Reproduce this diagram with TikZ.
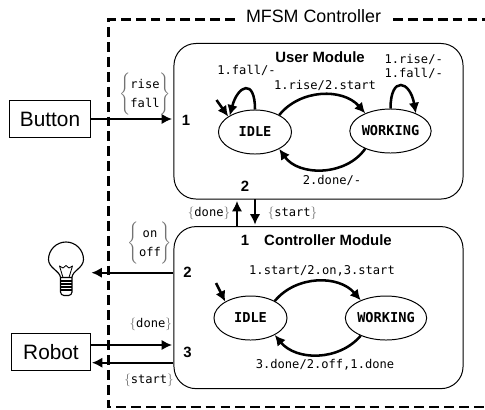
\documentclass[tikz,border=0pt]{standalone}
\usepackage{fontspec}
\setmainfont{Liberation Sans}
\setmonofont{DejaVu Sans Mono}
\usetikzlibrary{shapes.geometric, arrows.meta}
\newcommand{\msgpair}[2]{\color{black!55}$\left\{\begin{tabular}{@{}c@{}}\color{black}#1\\\color{black}#2\end{tabular}\right\}$}
\newcommand{\msgone}[1]{\color{black!55}$\{$\textcolor{black}{#1}$\}$}
\renewcommand{\arraystretch}{1.32}
\begin{document}
\begin{tikzpicture}[x=0.025cm, y=-0.025cm]
    % Define styles
    \tikzset{
        module/.style={
            draw,
            line width=0.7pt,
            rounded corners=0.55cm,
            minimum width=7.225cm,
            inner sep=0pt
        },
        device/.style={
            draw,
            line width=0.7pt,
            minimum height=0.925cm,
            inner sep=0pt,
            font=\fontsize{14.8}{17}\selectfont
        },
        state/.style={
            draw,
            ellipse,
            line width=0.7pt,
            minimum width=1.825cm,
            minimum height=1.1cm,
            inner sep=0pt,
            font=\ttfamily\bfseries\fontsize{9.7}{11}\selectfont
        },
        label/.style={
            font=\ttfamily\fontsize{8.6}{10.5}\selectfont,
            inner sep=0pt
        },
        title/.style={
            font=\bfseries\fontsize{10.6}{12}\selectfont,
            inner sep=0pt
        },
        arrow/.style={
            -{Latex[length=7.5pt,width=7.5pt]},
            line width=1.5pt,
            shorten >=1pt
        },
        transition/.style={
            -{Latex[length=7.5pt,width=7.5pt]},
            line width=1.8pt
        },
        frame/.style={
            line width=1.5pt,
            dash pattern=on 7pt off 3.6pt
        }
    }
    \useasboundingbox (0,0) rectangle (485,409);

    % Controller frame
    \node[inner sep=0pt, font=\fontsize{12.7}{15}\selectfont] (mfsm) at (313.5,16) {MFSM Controller};
    \coordinate (frame_a) at (235,19.5);
    \coordinate (frame_b) at (393,19.5);
    \coordinate (frame_c) at (485,19.5);
    \draw[frame] (frame_a) -- (108.5,19.5) -- (108.5,407) -- (485,407);
    \draw[frame] (frame_b) -- (frame_c);

    % Modules
    \node[module, minimum height=3.8875cm] (user) at (318.5,121.25) {};
    \node[module, minimum height=4.05cm] (controller) at (318.5,307.6) {};
    \node[title] (user_title) at (320,57) {User Module};
    \node[title] (controller_title) at (328,240) {Controller Module};

    % Devices
    \node[device, minimum width=2.025cm] (button) at (50,119) {Button};
    \node[device, minimum width=1.975cm] (robot) at (51,352) {Robot};

    % User states
    \node[state] (uidle) at (255,132) {IDLE};
    \node[state] (uworking) at (390.5,131) {WORKING};
    \coordinate (uinit) at (216.5,100);
    \draw[transition] (uinit) -- (uidle.150);
    \draw[transition] (uidle.90) to[out=90, in=75, looseness=3.1] (uidle.147);
    \draw[transition] (uidle.35) to[bend left=50] (uworking.145);
    \draw[transition] (uworking.215) to[bend left=55] (uidle.-35);
    \draw[transition] (uworking.90) to[out=90, in=100, looseness=3.3] (uworking.35);

    % Controller states
    \node[state] (cidle) at (250.5,318) {IDLE};
    \node[state] (cworking) at (386,318) {WORKING};
    \coordinate (cinit) at (216,283);
    \draw[transition] (cinit) -- (cidle.147);
    \draw[transition] (cidle.35) to[bend left=50] (cworking.145);
    \draw[transition] (cworking.215) to[bend left=50] (cidle.-35);

    % Transition labels
    \node[label] (l1) at (246.5,70) {1.fall/-};
    \node[label] (l2) at (325,85) {1.rise/2.start};
    \node[label] (l3) at (413.7,59) {1.rise/-};
    \node[label] (l4) at (413.7,73) {1.fall/-};
    \node[label] (l5) at (332,180) {2.done/-};
    \node[label] (l6) at (322,271) {1.start/2.on,3.start};
    \node[label] (l7) at (325,365) {3.done/2.off,1.done};

    % Ports
    \node[title] (p1) at (186,120.5) {1};
    \node[title] (p2) at (245,186) {2};
    \node[title] (p3) at (245,240) {1};
    \node[title] (p4) at (187.5,272) {2};
    \node[title] (p5) at (187.5,352.5) {3};

    % Lightbulb
    \coordinate (bulb) at (90,272.7);
    \draw[line width=0.8pt, line join=round] (60.5,277.5) .. controls (60,271) and (48.5,268) .. (48.5,259.5)
        arc (180:360:17.5) .. controls (83.5,268) and (72,271) .. (72,277.5) -- cycle;
    \draw[line width=0.6pt, line join=round] (63,277.5) -- (59.5,266) -- (63,268) -- (66,265.5) -- (69,268) -- (72.5,266) -- (69,277.5);
    \draw[line width=0.8pt] (60.5,277.5) -- (60.5,292) arc (180:90:3.5) -- (68.5,295.5) arc (90:0:3.5) -- (72,277.5);
    \foreach \y in {281,284,287,290} {
        \draw[line width=0.8pt] (60.5,\y) -- (72,\y);
    }

    % Connect devices to modules
    \draw[arrow] (button.east) -- (button.east -| user.west);
    \draw[arrow] (bulb -| controller.west) -- (bulb);
    \coordinate (robot_in) at (90.5,345);
    \coordinate (robot_out) at (90.5,362.7);
    \draw[arrow] (robot_in) -- (robot_in -| controller.west);
    \draw[arrow] (robot_out -| controller.west) -- (robot_out);

    % Connect modules
    \coordinate (done_up) at (237,226.5);
    \coordinate (start_down) at (255,199);
    \draw[arrow] (done_up) -- (done_up |- user.south);
    \draw[arrow] (start_down) -- (start_down |- controller.north);

    % Messages
    \node[label] (m1) at (145,94) {\msgpair{rise}{fall}};
    \node[label] (m2) at (150,243) {\msgpair{on}{off}};
    \node[label] (m3) at (209,213) {\msgone{done}};
    \node[label] (m4) at (292.5,213) {\msgone{start}};
    \node[label] (m5) at (150.8,324) {\msgone{done}};
    \node[label] (m6) at (149,380.7) {\msgone{start}};
\end{tikzpicture}
\end{document}
